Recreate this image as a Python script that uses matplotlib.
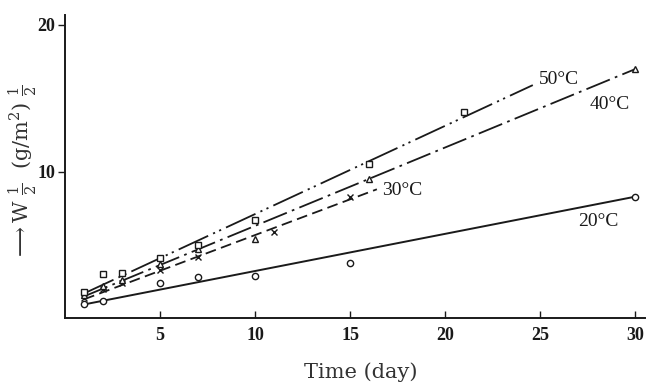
import matplotlib.pyplot as plt

plt.rcParams['mathtext.fontset'] = 'dejavuserif'

# measured points, W^1/2 vs time
days_20 = [1, 2, 5, 7, 10, 15, 30]
w_20 = [0.95, 1.2, 2.4, 2.8, 2.9, 3.8, 8.3]

days_30 = [1, 2, 3, 5, 7, 11, 15]
w_30 = [1.4, 2.0, 2.4, 3.3, 4.2, 5.9, 8.3]

days_40 = [1, 2, 3, 5, 7, 10, 16, 30]
w_40 = [1.6, 2.2, 2.6, 3.7, 4.7, 5.4, 9.5, 17.0]

days_50 = [1, 2, 3, 5, 7, 10, 16, 21]
w_50 = [1.8, 3.0, 3.1, 4.1, 5.0, 6.7, 10.5, 14.1]

# fitted straight lines (end points)
fit_20 = ([1, 30], [0.95, 8.3])
fit_30 = ([1, 16.4], [1.3, 8.8])
fit_40 = ([1, 30], [1.5, 17.0])
fit_50 = ([1, 24.6], [1.7, 15.9])

labels = ['20°C', '30°C', '40°C', '50°C']
label_pos = [(27.0, 6.6), (16.65, 8.75), (27.6, 14.55), (24.9, 16.25)]

xticks = [5, 10, 15, 20, 25, 30]
yticks = [10, 20]

ink = '#1a1a1a'
serif = ['Liberation Serif', 'DejaVu Serif']

fig = plt.figure(figsize=(6.55, 3.9), dpi=100)
ax = fig.add_axes([65 / 655, 1 - 318.4 / 390, 580 / 655, 303.7 / 390])

ax.plot(*fit_20, color=ink, lw=1.4, linestyle='-')
ax.plot(*fit_30, color=ink, lw=1.3, linestyle=(0, (6, 3)))
ax.plot(*fit_40, color=ink, lw=1.3, linestyle=(0, (14, 3, 1.5, 3)))
ax.plot(*fit_50, color=ink, lw=1.3, linestyle=(0, (18, 3, 1.2, 2.5, 1.2, 3)))

mk = dict(color=ink, linestyle='none', markersize=4.5, markerfacecolor='white', markeredgewidth=1.0)
ax.plot(days_20, w_20, marker='o', **mk)
ax.plot(days_30, w_30, marker='x', **mk)
ax.plot(days_40, w_40, marker='^', **mk)
ax.plot(days_50, w_50, marker='s', **mk)

for txt, (x, y) in zip(labels, label_pos):
    ax.text(x, y, txt, fontsize=14, family=serif, color=ink, ha='left', va='center')

ax.set_xlim(0, 30.5)
ax.set_ylim(0, 20.7)
ax.set_xticks(xticks)
ax.set_yticks(yticks)
ax.set_xticklabels([str(t) for t in xticks], fontsize=13, family=serif, fontweight='bold')
ax.set_yticklabels([str(t) for t in yticks], fontsize=13, family=serif, fontweight='bold')
ax.tick_params(axis='x', direction='in', length=5, width=1, colors=ink, pad=6)
ax.tick_params(axis='y', direction='out', length=5, width=1, colors=ink, pad=2)

for side in ['top', 'right']:
    ax.spines[side].set_visible(False)
for side in ['left', 'bottom']:
    ax.spines[side].set_linewidth(1.4)
    ax.spines[side].set_color(ink)

ax.set_xlabel('Time (day)', fontsize=15, family=['DejaVu Serif'], color='#333333')
ax.xaxis.set_label_coords(0.51, -0.145)
ax.set_ylabel(r'$\longrightarrow$W $\frac{1}{2}$  (g/m$^2$) $\frac{1}{2}$',
              fontsize=15, family=['DejaVu Serif'], color='#333333')
ax.yaxis.set_label_coords(-0.045, 0.48)

fig.savefig('out.png', dpi=100)
